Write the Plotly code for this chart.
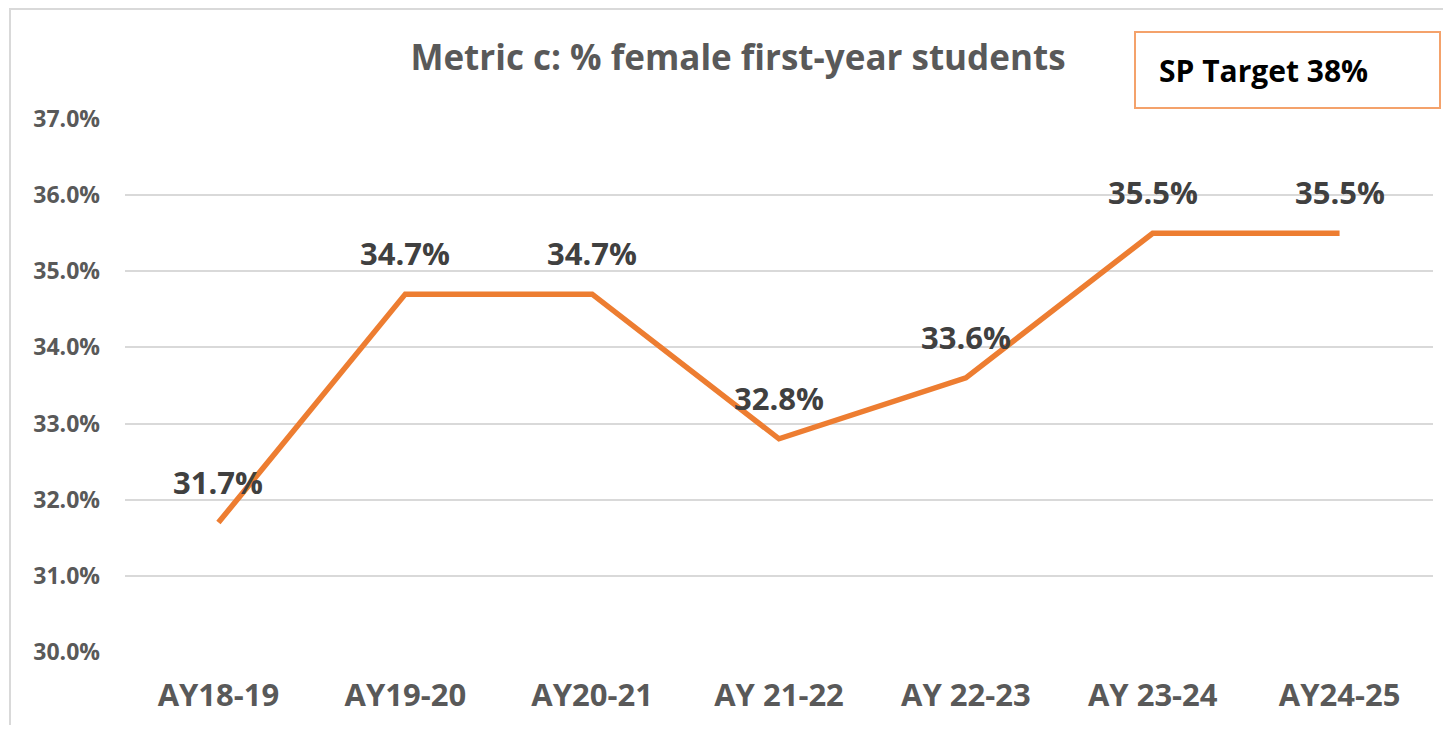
import plotly.graph_objects as go

categories = ["AY18-19", "AY19-20", "AY20-21", "AY 21-22", "AY 22-23", "AY 23-24", "AY24-25"]
values = [31.7, 34.7, 34.7, 32.8, 33.6, 35.5, 35.5]
labels = [f"{v:.1f}%" for v in values]
tick_vals = [30, 31, 32, 33, 34, 35, 36, 37]
tick_text = [f"{v:.1f}%" for v in tick_vals]

# page body has an 8px margin, so the figure is shrunk and offset accordingly
OFF = 8
W, H = 1451 - 2 * OFF, 733 - 2 * OFF
ML, MT = 125 - OFF, 119 - OFF
MR = W - (1433 - OFF)
MB = H - (652 - OFF)
pw, ph = W - ML - MR, H - MT - MB

def px_x(x):
    return (x - OFF - ML) / pw

def px_y(y):
    return (H - MB - (y - OFF)) / ph

fig = go.Figure()
fig.add_trace(go.Scatter(
    x=categories, y=values, mode="lines",
    line=dict(color="#ED7D31", width=5.5),
    cliponaxis=False, hoverinfo="skip", showlegend=False,
))
for c, v, t in zip(categories, values, labels):
    fig.add_annotation(x=c, y=v, text=t, showarrow=False, yshift=41,
                       xanchor="center", yanchor="middle",
                       font=dict(family="Open Sans", size=31, color="#404040", weight="bold"))

fig.update_layout(
    width=W, height=H,
    margin=dict(l=ML, r=MR, t=MT, b=MB),
    paper_bgcolor="white", plot_bgcolor="white",
    title=dict(text="Metric c: % female first-year students",
               x=px_x(738), xref="paper", xanchor="center",
               y=1 - (58 - OFF) / H, yanchor="middle",
               font=dict(family="Open Sans", size=35, color="#595959", weight="bold")),
    xaxis=dict(type="category", range=[-0.5, 6.5], showgrid=False, showline=False,
               ticks="", ticklabelstandoff=22,
               tickfont=dict(family="Open Sans", size=31, color="#595959", weight="bold")),
    yaxis=dict(range=[30, 37], tickvals=tick_vals, ticktext=tick_text,
               showgrid=True, gridcolor="#D9D9D9", gridwidth=2, zeroline=False,
               showline=False, ticks="", ticklabelstandoff=24,
               tickfont=dict(family="Open Sans", size=23, color="#595959", weight="bold")),
)

# outer chart border
fig.add_shape(type="rect", xref="paper", yref="paper",
              x0=px_x(10), x1=px_x(1470), y0=px_y(760), y1=px_y(9),
              line=dict(color="#D9D9D9", width=2), fillcolor="rgba(0,0,0,0)", layer="below")

# SP target box
fig.add_shape(type="rect", xref="paper", yref="paper",
              x0=px_x(1135), x1=px_x(1440), y0=px_y(108), y1=px_y(32),
              line=dict(color="#F4A26B", width=2), fillcolor="white")
fig.add_annotation(xref="paper", yref="paper", x=px_x(1157), y=px_y(70),
                   xanchor="left", yanchor="middle", showarrow=False,
                   text="SP Target 38%",
                   font=dict(family="Open Sans", size=30, color="#000000", weight="bold"))

fig.write_html("out.html")
